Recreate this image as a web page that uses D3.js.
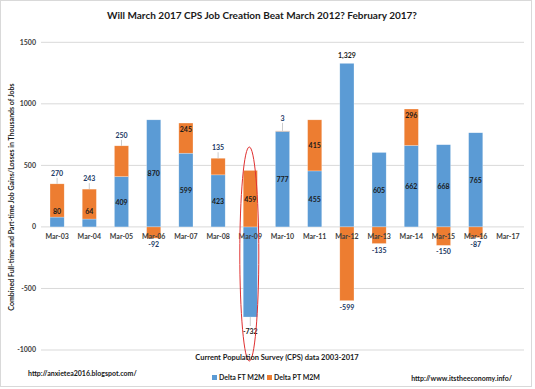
<!DOCTYPE html>
<html>
<head>
<meta charset="utf-8">
<script src="https://cdn.jsdelivr.net/npm/d3@7"></script>
<style>
  body { margin: 0; background: #fff; }
  svg { display: block; }
  text { font-family: Lato, 'Open Sans', sans-serif; }
</style>
</head>
<body>
<svg id="chart"></svg>
<script>
var categories = ['Mar-03', 'Mar-04', 'Mar-05', 'Mar-06', 'Mar-07', 'Mar-08', 'Mar-09', 'Mar-10',
  'Mar-11', 'Mar-12', 'Mar-13', 'Mar-14', 'Mar-15', 'Mar-16', 'Mar-17'];
var deltaFT = [80, 64, 409, 870, 599, 423, -732, 777, 455, 1329, 605, 662, 668, 765, null];
var deltaPT = [270, 243, 250, -92, 245, 135, 459, 3, 415, -599, -135, 296, -150, -87, null];
var yTicks = [-1000, -500, 0, 500, 1000, 1500];

// which PT labels sit inside the top of the orange bar (the rest sit outside)
var ptLabelInside = ['Mar-07', 'Mar-09', 'Mar-11', 'Mar-14'];

var config = {
  svgWidth: 535,
  svgHeight: 389,
  plotLeft: 41,
  plotRight: 524,
  plotTop: 42.3,
  plotBottom: 350,
  blue: '#5b9bd5',
  orange: '#ed7d31',
  navy: '#203864',
  grid: '#d9d9d9',
  text: '#404040'
};

var svg = d3.select('#chart')
  .attr('width', config.svgWidth)
  .attr('height', config.svgHeight);

svg.append('rect')
  .attr('x', 0.5).attr('y', 0.5)
  .attr('width', config.svgWidth - 4).attr('height', config.svgHeight - 3)
  .attr('fill', '#fff')
  .attr('stroke', '#d9d9d9');

var x = d3.scaleBand()
  .domain(categories)
  .range([config.plotLeft, config.plotRight])
  .paddingInner(0.56)
  .paddingOuter(0.28);

var y = d3.scaleLinear()
  .domain([-1000, 1500])
  .range([config.plotBottom, config.plotTop]);

// gridlines
svg.append('g')
  .selectAll('line')
  .data(yTicks)
  .enter().append('line')
  .attr('x1', config.plotLeft)
  .attr('x2', config.plotRight)
  .attr('y1', function(d) { return y(d); })
  .attr('y2', function(d) { return y(d); })
  .attr('stroke', config.grid)
  .attr('stroke-width', 1);

// y tick labels
svg.append('g')
  .selectAll('text')
  .data(yTicks)
  .enter().append('text')
  .attr('x', 36)
  .attr('y', function(d) { return y(d); })
  .attr('dy', '0.35em')
  .attr('text-anchor', 'end')
  .attr('font-size', '7px')
  .attr('font-weight', 'bold')
  .attr('fill', config.text)
  .text(function(d) { return d; });

// stacked data, diverging like Excel does it
var table = categories.map(function(c, i) {
  return { cat: c, ft: deltaFT[i] || 0, pt: deltaPT[i] || 0 };
});
var stack = d3.stack()
  .keys(['ft', 'pt'])
  .offset(d3.stackOffsetDiverging);
var series = stack(table);
var colors = { ft: config.blue, pt: config.orange };

svg.append('g')
  .selectAll('g')
  .data(series)
  .enter().append('g')
  .attr('fill', function(s) { return colors[s.key]; })
  .selectAll('rect')
  .data(function(s) { return s; })
  .enter().append('rect')
  .attr('x', function(d) { return x(d.data.cat); })
  .attr('width', x.bandwidth())
  .attr('y', function(d) { return y(Math.max(d[0], d[1])); })
  .attr('height', function(d) { return Math.abs(y(d[0]) - y(d[1])); })
  .attr('stroke', '#fff')
  .attr('stroke-opacity', 0.5)
  .attr('stroke-width', 0.5);

// category labels
svg.append('g')
  .selectAll('text')
  .data(categories)
  .enter().append('text')
  .attr('x', function(d) { return x(d) + x.bandwidth() / 2; })
  .attr('y', y(0) + 12)
  .attr('text-anchor', 'middle')
  .attr('font-size', '7px')
  .attr('font-weight', 'bold')
  .attr('fill', config.text)
  .text(function(d) { return d; });

var fmt = d3.formatLocale({ decimal: '.', thousands: ',', grouping: [3], currency: ['', ''], minus: '-' }).format(',');
var labels = svg.append('g')
  .attr('font-size', '7px')
  .attr('font-weight', 'bold')
  .attr('text-anchor', 'middle');

// FT labels
series[0].forEach(function(d, i) {
  if (deltaFT[i] == null) return;
  var cx = x(d.data.cat) + x.bandwidth() / 2;
  var v = deltaFT[i];
  var ly;
  if (v > 1000) {
    ly = y(d[1]) - 5;
  } else if (v < 0) {
    ly = y(d[0]) + 17;
    labels.append('line')
      .attr('x1', cx).attr('x2', cx)
      .attr('y1', y(d[0])).attr('y2', ly - 8)
      .attr('stroke', '#bfbfbf').attr('stroke-width', 0.8);
  } else {
    ly = Math.min((y(d[0]) + y(d[1])) / 2, y(0) - 16) + 3;
  }
  labels.append('text')
    .attr('x', cx)
    .attr('y', ly)
    .attr('fill', '#1a1a1a')
    .text(fmt(v));
});

// PT labels
series[1].forEach(function(d, i) {
  if (deltaPT[i] == null) return;
  var cx = x(d.data.cat) + x.bandwidth() / 2;
  var v = deltaPT[i];
  var inside = ptLabelInside.indexOf(d.data.cat) >= 0;
  var ly, col = config.navy;
  if (inside) {
    col = '#1a1a1a';
    ly = v > 300 ? (y(d[0]) + y(d[1])) / 2 + 3 : y(d[1]) + 9;
  } else if (v >= 0) {
    var top = y(d[1]);
    ly = v < 50 ? top - 10 : top - 8;
    labels.append('line')
      .attr('x1', cx).attr('x2', cx)
      .attr('y1', top).attr('y2', ly + 2)
      .attr('stroke', '#bfbfbf').attr('stroke-width', 0.8);
  } else {
    ly = y(d[0]) + 9;
  }
  labels.append('text')
    .attr('x', cx)
    .attr('y', ly)
    .attr('fill', col)
    .text(fmt(v));
});

// red ellipse round Mar-09
svg.append('ellipse')
  .attr('cx', x('Mar-09') + x.bandwidth() / 2 - 1)
  .attr('cy', 254)
  .attr('rx', 9.5)
  .attr('ry', 107)
  .attr('fill', 'none')
  .attr('stroke', '#e03030')
  .attr('stroke-width', 1);

// titles
svg.append('text')
  .attr('x', 262)
  .attr('y', 19)
  .attr('text-anchor', 'middle')
  .attr('font-size', '10px')
  .attr('font-weight', 'bold')
  .attr('fill', '#1a1a1a')
  .text('Will March 2017 CPS Job Creation Beat March 2012? February 2017?');

svg.append('text')
  .attr('transform', 'translate(14,' + 197 + ') rotate(-90)')
  .attr('text-anchor', 'middle')
  .attr('font-size', '7px')
  .attr('font-weight', 'bold')
  .attr('fill', '#1a1a1a')
  .text('Combined Full-time and Part-time Job Gains/Losses in Thousands of Jobs');

svg.append('text')
  .attr('x', 277)
  .attr('y', 360)
  .attr('text-anchor', 'middle')
  .attr('font-size', '7.5px')
  .attr('font-weight', 'bold')
  .attr('fill', '#1a1a1a')
  .text('Current Population Survey (CPS) data 2003-2017');

// footers
svg.append('text')
  .attr('x', 28)
  .attr('y', 376)
  .attr('font-size', '7px')
  .attr('font-weight', 'bold')
  .attr('fill', '#1a1a1a')
  .text('http://anxietea2016.blogspot.com/');

svg.append('text')
  .attr('x', 512)
  .attr('y', 381)
  .attr('text-anchor', 'end')
  .attr('font-size', '7px')
  .attr('font-weight', 'bold')
  .attr('fill', '#1a1a1a')
  .text('http://www.itstheeconomy.info/');

// legend
var legendItems = [
  { name: 'Delta FT M2M', color: config.blue, x: 212 },
  { name: 'Delta PT M2M', color: config.orange, x: 267 }
];
var legend = svg.append('g')
  .selectAll('g')
  .data(legendItems)
  .enter().append('g')
  .attr('transform', function(d) { return 'translate(' + d.x + ',378)'; });
legend.append('rect')
  .attr('x', 0).attr('y', -3)
  .attr('width', 5).attr('height', 5)
  .attr('fill', function(d) { return d.color; });
legend.append('text')
  .attr('x', 7)
  .attr('y', 2)
  .attr('font-size', '7px')
  .attr('font-weight', 'bold')
  .attr('fill', '#1a1a1a')
  .text(function(d) { return d.name; });
</script>
</body>
</html>
